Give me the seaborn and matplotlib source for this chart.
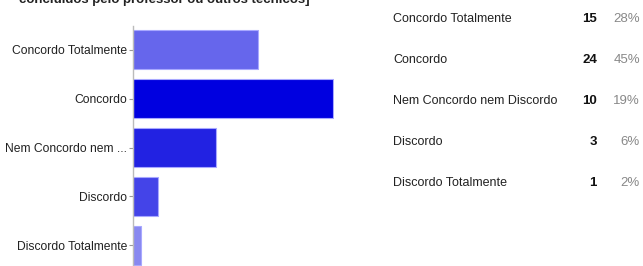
import matplotlib
matplotlib.use('Agg')
import matplotlib.pyplot as plt
import seaborn as sns
import pandas as pd

# Dados do gráfico
categorias = ['Concordo Totalmente', 'Concordo', 'Nem Concordo nem Discordo', 'Discordo', 'Discordo Totalmente']
rotulos_eixo = ['Concordo Totalmente', 'Concordo', 'Nem Concordo nem ...', 'Discordo', 'Discordo Totalmente']
contagens = [15, 24, 10, 3, 1]
percentuais = ['28%', '45%', '19%', '6%', '2%']
cores = ['#6666EC', '#0000E0', '#2222E2', '#4444E8', '#8888F0']
titulo_cortado = 'concluídos pelo professor ou outros técnicos]'

df = pd.DataFrame({'resposta': rotulos_eixo, 'total': contagens})

sns.set_style('white')
plt.rcParams['font.family'] = ['Liberation Sans', 'DejaVu Sans']

fig = plt.figure(figsize=(6.43, 2.66), dpi=100)
ax = fig.add_axes([133 / 643, -3.4 / 266, 201 / 643, 243.8 / 266])

sns.barplot(data=df, x='total', y='resposta', hue='resposta', palette=cores,
            saturation=1, legend=False, width=0.8, edgecolor='#A8A8FF',
            linewidth=0.8, ax=ax)

ax.set_xlim(0, 24.1)
ax.set_ylim(4.5, -0.5)
ax.set_xlabel('')
ax.set_ylabel('')
ax.set_xticks([])
for lado in ['top', 'right', 'bottom']:
    ax.spines[lado].set_visible(False)
ax.spines['left'].set_color('#BBBBBB')
ax.spines['left'].set_linewidth(1)
ax.tick_params(axis='y', left=True, length=3, width=0.8, color='#999999',
               labelsize=8.7, labelcolor='#222222', pad=1)

# titulo cortado no topo (assim como na imagem original)
fig.text(0.03, 1 - 2.5 / 266, titulo_cortado, fontsize=9.5, fontweight='bold',
         color='#222222', va='baseline', ha='left')

# tabela à direita
linhas_y = [19, 60, 101, 142, 183]
for cat, n, p, y in zip(categorias, contagens, percentuais, linhas_y):
    yy = 1 - y / 266
    fig.text(393 / 643, yy, cat, fontsize=9, color='#222222', va='center', ha='left')
    fig.text(597 / 643, yy, str(n), fontsize=9.5, fontweight='bold', color='#111111', va='center', ha='right')
    fig.text(640 / 643, yy, p, fontsize=9.5, color='#888888', va='center', ha='right')

fig.savefig('out.png', dpi=100)
